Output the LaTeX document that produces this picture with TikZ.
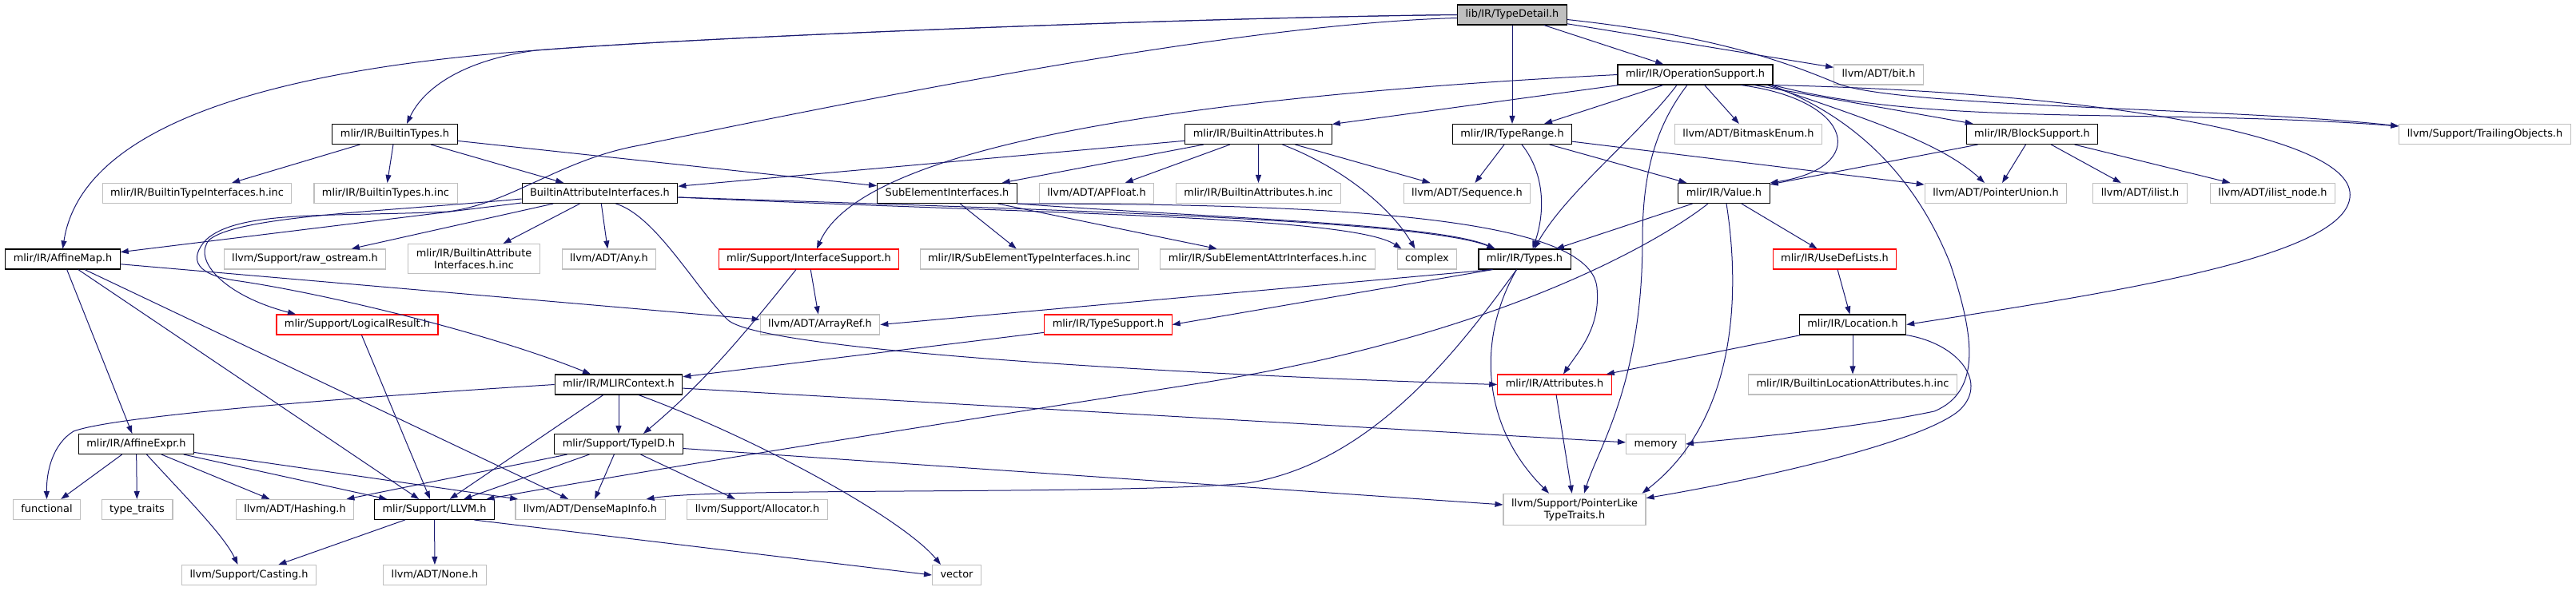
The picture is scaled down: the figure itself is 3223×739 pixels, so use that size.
\documentclass[tikz,border=0pt]{standalone}
\usepackage{fontspec}
\setmainfont{DejaVu Sans}
\usepackage{tikz}
\usetikzlibrary{arrows.meta}
\definecolor{edgeblue}{HTML}{191970}
\definecolor{boxgrey}{HTML}{BFBFBF}
\definecolor{cutred}{HTML}{FF0000}
\newcommand{\dxfont}{\fontsize{12.9}{15}\selectfont}
\tikzset{
  filebox/.style={rectangle, line width=1.1pt, fill=white, minimum height=25pt,
    inner xsep=10pt, inner ysep=6pt, font=\dxfont},
  docfile/.style={filebox, draw=black, text height=9.6pt, text depth=2.9pt},
  sysfile/.style={filebox, draw=boxgrey, text height=9.6pt, text depth=2.9pt},
  sysfile2/.style={filebox, draw=boxgrey, align=center},
  cutfile/.style={filebox, draw=cutred, text height=9.6pt, text depth=2.9pt},
  rootfile/.style={filebox, draw=black, fill=boxgrey, text height=9.6pt, text depth=2.9pt},
  dep/.style={draw=edgeblue, line width=1pt, -{Triangle[length=10pt,width=7pt]}}
}
\begin{document}
\begin{tikzpicture}[x=1pt,y=-1pt]
 \useasboundingbox (0,0) rectangle (3223,739);
 % files, row by row
 \node[rootfile] (td) at (1892,18.5) {lib/IR/TypeDetail.h};
 \node[docfile] (opsup) at (2121,93.5) {mlir/IR/OperationSupport.h};
 \node[sysfile] (bith) at (2350.5,93.5) {llvm/ADT/bit.h};
 \node[docfile] (btypes) at (494,168) {mlir/IR/BuiltinTypes.h};
 \node[docfile] (battr) at (1574.5,168) {mlir/IR/BuiltinAttributes.h};
 \node[docfile] (trange) at (1892,168) {mlir/IR/TypeRange.h};
 \node[sysfile] (bitmask) at (2187.5,168) {llvm/ADT/BitmaskEnum.h};
 \node[docfile] (blocks) at (2542.5,168) {mlir/IR/BlockSupport.h};
 \node[sysfile] (trail) at (3109,168) {llvm/Support/TrailingObjects.h};
 \node[sysfile] (btifinc) at (246.5,242) {mlir/IR/BuiltinTypeInterfaces.h.inc};
 \node[sysfile] (btinc) at (482.5,242) {mlir/IR/BuiltinTypes.h.inc};
 \node[docfile] (bai) at (750.5,242) {BuiltinAttributeInterfaces.h};
 \node[docfile] (subel) at (1185,242) {SubElementInterfaces.h};
 \node[sysfile] (apfloat) at (1372,242) {llvm/ADT/APFloat.h};
 \node[sysfile] (bainc) at (1574.5,242) {mlir/IR/BuiltinAttributes.h.inc};
 \node[sysfile] (seq) at (1835.5,242) {llvm/ADT/Sequence.h};
 \node[docfile] (value) at (2157,242) {mlir/IR/Value.h};
 \node[sysfile] (punion) at (2497,242) {llvm/ADT/PointerUnion.h};
 \node[sysfile] (ilist) at (2677.5,242) {llvm/ADT/ilist.h};
 \node[sysfile] (ilistn) at (2843.5,242) {llvm/ADT/ilist\_node.h};
 \node[docfile] (affmap) at (78.5,324.5) {mlir/IR/AffineMap.h};
 \node[sysfile] (rawos) at (381.5,324.5) {llvm/Support/raw\_ostream.h};
 \node[sysfile2] (baiinc) at (593,324) {mlir/IR/BuiltinAttribute\\Interfaces.h.inc};
 \node[sysfile] (anyh) at (762,324.5) {llvm/ADT/Any.h};
 \node[cutfile] (ifsup) at (1012,324.5) {mlir/Support/InterfaceSupport.h};
 \node[sysfile] (setinc) at (1288,324.5) {mlir/IR/SubElementTypeInterfaces.h.inc};
 \node[sysfile] (seainc) at (1586,324.5) {mlir/IR/SubElementAttrInterfaces.h.inc};
 \node[sysfile] (cplx) at (1785.5,324.5) {complex};
 \node[docfile] (types) at (1907.5,324.5) {mlir/IR/Types.h};
 \node[cutfile] (usedef) at (2295.5,324.5) {mlir/IR/UseDefLists.h};
 \node[cutfile] (logres) at (447,406.5) {mlir/Support/LogicalResult.h};
 \node[sysfile] (arrref) at (1026,406.5) {llvm/ADT/ArrayRef.h};
 \node[cutfile] (tsupp) at (1386.5,406.5) {mlir/IR/TypeSupport.h};
 \node[docfile] (loc) at (2318,406.5) {mlir/IR/Location.h};
 \node[docfile] (mlirctx) at (774,481.5) {mlir/IR/MLIRContext.h};
 \node[cutfile] (attrs) at (1945,481.5) {mlir/IR/Attributes.h};
 \node[sysfile] (blainc) at (2318,481.5) {mlir/IR/BuiltinLocationAttributes.h.inc};
 \node[docfile] (affexpr) at (170.5,556) {mlir/IR/AffineExpr.h};
 \node[docfile] (typeid) at (774,556) {mlir/Support/TypeID.h};
 \node[sysfile] (memory) at (2071.5,556) {memory};
 \node[sysfile] (functional) at (58.5,638) {functional};
 \node[sysfile] (ttraits) at (171.5,638) {type\_traits};
 \node[sysfile] (hashing) at (369,638) {llvm/ADT/Hashing.h};
 \node[docfile] (llvm) at (543.5,638) {mlir/Support/LLVM.h};
 \node[sysfile] (densemap) at (738.5,638) {llvm/ADT/DenseMapInfo.h};
 \node[sysfile] (alloc) at (947.5,638) {llvm/Support/Allocator.h};
 \node[sysfile2] (pltt) at (1970,638) {llvm/Support/PointerLike\\TypeTraits.h};
 \node[sysfile] (casting) at (311.5,720) {llvm/Support/Casting.h};
 \node[sysfile] (none) at (544,720) {llvm/ADT/None.h};
 \node[sysfile] (vector) at (1197,720) {vector};
 % TypeDetail.h
 \draw[dep] (td.west) .. controls (1500,22) and (900,45) .. (671,63) .. controls (300,90) and (100,170) .. (affmap.north);
 \draw[dep] (td.west) .. controls (1500,22) and (900,45) .. (671,63) .. controls (580,75) and (530,110) .. ([xshift=15]btypes.north);
 \draw[dep] ([yshift=-4]td.west) .. controls (1550,30) and (1100,120) .. (800,182) .. controls (700,200) and (640,255) .. (560,265)
   .. controls (420,272) and (300,262) .. (258,300) .. controls (235,325) and (245,345) .. (300,352)
   .. controls (420,370) and (620,420) .. ([xshift=-35]mlirctx.north);
 \draw[dep] (td) -- (trange);
 \draw[dep] (td) -- (opsup);
 \draw[dep] (td) -- (bith);
 \draw[dep] ([yshift=-6]td.east) .. controls (2150,45) and (2240,80) .. (2300,105) .. controls (2380,135) and (2800,135) .. ([yshift=-3]trail.north west);
 % OperationSupport.h
 \draw[dep] (opsup) -- (battr);
 \draw[dep] (opsup) -- (trange);
 \draw[dep] (opsup) -- (bitmask);
 \draw[dep] (opsup) -- (blocks);
 \draw[dep] (opsup.west) .. controls (1500,120) and (1080,180) .. ([xshift=10]ifsup.north);
 \draw[dep] ([xshift=-23]opsup.south) .. controls (2050,170) and (1960,240) .. ([xshift=12]types.north);
 \draw[dep] ([xshift=-10]opsup.south) .. controls (2070,160) and (2055,220) .. (2055,300) .. controls (2055,480) and (2000,560) .. ([xshift=12]pltt.north);
 \draw[dep] ([xshift=57]opsup.south) .. controls (2320,125) and (2340,210) .. (value.north east);
 \draw[dep] ([xshift=90]opsup.south) .. controls (2340,150) and (2430,180) .. ([xshift=-14]punion.north);
 \draw[dep] ([xshift=95]opsup.south) .. controls (2330,150) and (2400,230) .. (2440,330) .. controls (2470,420) and (2480,490) .. (2420,515)
   .. controls (2300,540) and (2160,550) .. (memory.east);
 \draw[dep] (opsup.south east) .. controls (2420,160) and (2700,135) .. ([yshift=-3]trail.north west);
 \draw[dep] (opsup.south east) .. controls (2600,115) and (2930,165) .. (2940,240) .. controls (2950,320) and (2650,365) .. (loc.east);
 % TypeRange.h
 \draw[dep] (trange) -- (seq);
 \draw[dep] ([xshift=12]trange.south) .. controls (1935,220) and (1932,270) .. ([xshift=10]types.north);
 \draw[dep] (trange) -- (value);
 \draw[dep] (trange) -- (punion);
 % BuiltinAttributes.h
 \draw[dep] (battr) -- (bai);
 \draw[dep] (battr) -- (subel);
 \draw[dep] (battr) -- (apfloat);
 \draw[dep] (battr) -- (bainc);
 \draw[dep] (battr) -- (seq);
 \draw[dep] ([xshift=30]battr.south) .. controls (1680,210) and (1740,260) .. ([xshift=-15]cplx.north);
 % BlockSupport.h
 \draw[dep] (blocks) -- (value);
 \draw[dep] (blocks) -- (punion);
 \draw[dep] (blocks) -- (ilist);
 \draw[dep] (blocks) -- (ilistn);
 % BuiltinTypes.h
 \draw[dep] (btypes) -- (btifinc);
 \draw[dep] (btypes) -- (btinc);
 \draw[dep] (btypes) -- (bai);
 \draw[dep] (btypes) -- (subel);
 % BuiltinAttributeInterfaces.h
 \draw[dep] (bai) -- (affmap);
 \draw[dep] (bai) -- (rawos);
 \draw[dep] (bai) -- (baiinc);
 \draw[dep] (bai) -- (anyh);
 \draw[dep] ([yshift=-5]bai.east) .. controls (1300,268) and (1690,270) .. ([xshift=-32]cplx.north);
 \draw[dep] ([yshift=-5]bai.east) .. controls (1300,262) and (1780,275) .. ([xshift=-37]types.north);
 \draw[dep] ([xshift=20]bai.south) .. controls (820,270) and (870,360) .. (910,400) .. controls (950,440) and (1500,470) .. (attrs.west);
 \draw[dep] ([yshift=-7]bai.west) .. controls (480,265) and (300,270) .. (262,300) .. controls (240,325) and (280,370) .. ([xshift=-77]logres.north);
 % SubElementInterfaces.h
 \draw[dep] (subel) -- (setinc);
 \draw[dep] (subel) -- (seainc);
 \draw[dep] (subel.south east) .. controls (1500,272) and (1800,280) .. ([xshift=-37]types.north);
 \draw[dep] (subel.south east) .. controls (1700,255) and (1990,275) .. (1998,360) .. controls (2003,410) and (1975,440) .. ([xshift=11]attrs.north);
 % Value.h
 \draw[dep] (value) -- (types);
 \draw[dep] (value) -- (usedef);
 \draw[dep] ([xshift=-20]value.south) .. controls (2080,300) and (1880,420) .. (1500,480) .. controls (1200,527) and (800,590) .. ([xshift=65]llvm.north);
 \draw[dep] ([xshift=3]value.south) .. controls (2175,350) and (2180,520) .. ([xshift=-5]pltt.north east);
 % Types.h
 \draw[dep] ([xshift=-40]types.south) -- (arrref.east);
 \draw[dep] ([xshift=-40]types.south) -- (tsupp.east);
 \draw[dep] ([xshift=-10]types.south) .. controls (1830,430) and (1720,580) .. (1560,605) .. controls (1400,620) and (900,610) .. ([xshift=70]densemap.north);
 \draw[dep] ([xshift=-10]types.south) .. controls (1850,420) and (1850,530) .. ([xshift=-32]pltt.north);
 % Location.h and the red ones
 \draw[dep] (usedef) -- (loc);
 \draw[dep] (loc) -- (attrs);
 \draw[dep] (loc) -- (blainc);
 \draw[dep] (loc.south east) .. controls (2450,430) and (2490,480) .. (2450,515) .. controls (2400,555) and (2200,600) .. ([yshift=-6]pltt.north east);
 \draw[dep] (attrs) -- (pltt);
 \draw[dep] (tsupp) -- (mlirctx);
 \draw[dep] ([xshift=-16]ifsup.south) .. controls (930,420) and (880,480) .. ([xshift=31]typeid.north);
 \draw[dep] (ifsup) -- (arrref);
 \draw[dep] (logres) -- (llvm);
 % MLIRContext.h
 \draw[dep] (mlirctx.west) .. controls (400,500) and (140,522) .. (92,540) .. controls (66,556) and (58,590) .. (functional.north);
 \draw[dep] (mlirctx) -- (llvm);
 \draw[dep] (mlirctx) -- (typeid);
 \draw[dep] (mlirctx) -- (memory);
 \draw[dep] ([xshift=25]mlirctx.south) .. controls (950,550) and (1130,650) .. ([xshift=-20]vector.north);
 % TypeID.h
 \draw[dep] (typeid) -- (hashing);
 \draw[dep] (typeid) -- (llvm);
 \draw[dep] (typeid) -- (densemap);
 \draw[dep] (typeid) -- (alloc);
 \draw[dep] (typeid) -- (pltt);
 % AffineMap.h, AffineExpr.h
 \draw[dep] (affmap) -- (affexpr);
 \draw[dep] (affmap) -- (llvm);
 \draw[dep] (affmap) -- (densemap);
 \draw[dep] (affmap) -- (arrref);
 \draw[dep] (affexpr) -- (functional);
 \draw[dep] (affexpr) -- (ttraits);
 \draw[dep] ([xshift=13]affexpr.south) .. controls (230,620) and (280,670) .. ([xshift=-14]casting.north);
 \draw[dep] (affexpr) -- (hashing);
 \draw[dep] (affexpr) -- (llvm);
 \draw[dep] (affexpr) -- (densemap);
 % LLVM.h
 \draw[dep] (llvm) -- (casting);
 \draw[dep] (llvm) -- (none);
 \draw[dep] ([xshift=50]llvm.south) -- (vector.west);
\end{tikzpicture}
\end{document}
